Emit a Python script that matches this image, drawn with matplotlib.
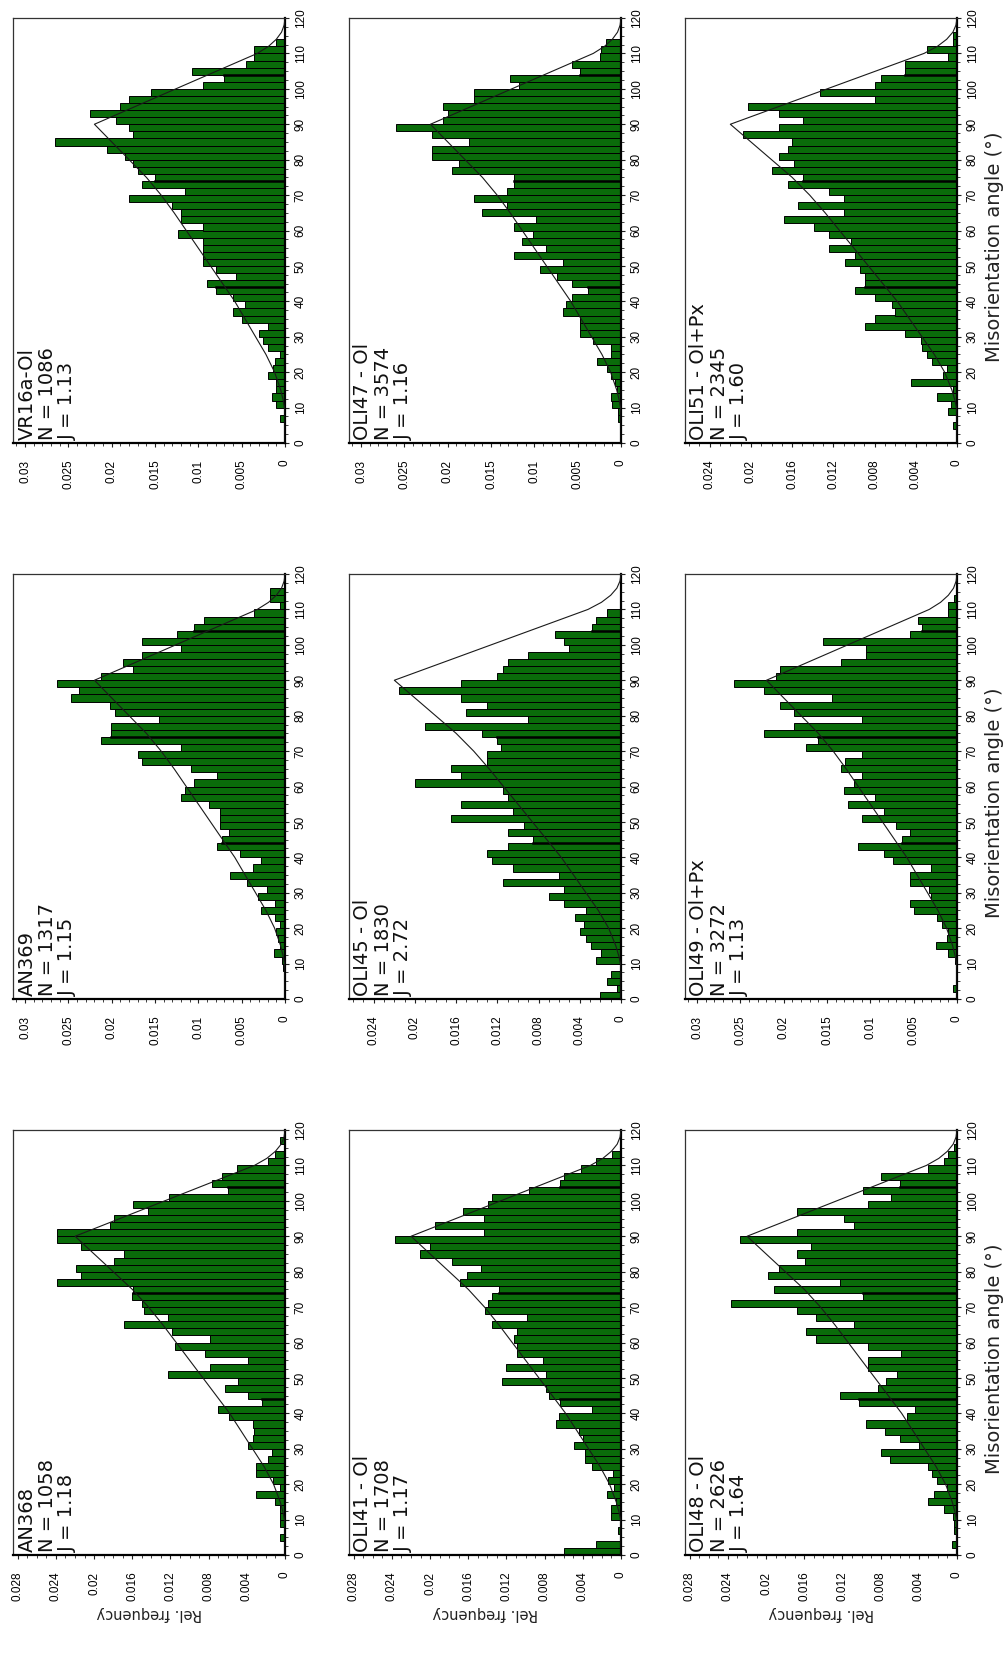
"""Misorientation-angle histograms for nine samples (portrait layout: angle runs
bottom-to-top, relative frequency grows to the left)."""
import numpy as np
import matplotlib
matplotlib.use("Agg")
import matplotlib.pyplot as plt
from matplotlib import font_manager
from matplotlib.ticker import FixedLocator, MultipleLocator

# left edges of the 2-degree bins
BIN_LEFT = np.arange(0, 120, 2)

# random (uncorrelated) misorientation curve, same in every panel
CURVE_ANGLE = [0, 5, 8, 10, 12, 15, 20, 25, 30, 35, 40, 45, 50, 55, 60, 65, 70,
               75, 80, 85, 90, 95, 100, 105, 110, 112, 114, 116, 118, 120]
CURVE_FREQ = [0, 0, 0, 0.00005, 0.0002, 0.0005, 0.0012, 0.0022, 0.0034, 0.0046,
              0.0058, 0.0072, 0.0086, 0.0100, 0.0114, 0.0128, 0.0143, 0.0160,
              0.0180, 0.0200, 0.0220, 0.0173, 0.0126, 0.0079, 0.0032, 0.0019,
              0.0010, 0.0004, 0.0001, 0]

VR16A = [0, 0, 0, 0.0006, 0, 0.001, 0.0015, 0.001, 0.001, 0.002,
         0.0014, 0.0011, 0.0006, 0.002, 0.0025, 0.003, 0.002, 0.005, 0.006, 0.0046,
         0.006, 0.008, 0.009, 0.0056, 0.008, 0.0095, 0.0095, 0.0095, 0.0095, 0.0124,
         0.0095, 0.012, 0.012, 0.013, 0.018, 0.0115, 0.0165, 0.015, 0.017, 0.0175,
         0.0185, 0.0205, 0.0265, 0.0175, 0.018, 0.0195, 0.0225, 0.019, 0.018, 0.0155,
         0.0095, 0.007, 0.0107, 0.0045, 0.0036, 0.0036, 0.001, 0, 0, 0]

OLI47 = [0, 0, 0, 0.0003, 0.0003, 0.001, 0.0011, 0.0005, 0.0007, 0.0012,
         0.0016, 0.0028, 0.0011, 0.0011, 0.0032, 0.0047, 0.0047, 0.0047, 0.0067, 0.0064,
         0.0057, 0.0038, 0.0057, 0.0074, 0.0093, 0.0067, 0.0124, 0.0087, 0.0114, 0.0102,
         0.0124, 0.0098, 0.016, 0.0132, 0.017, 0.0132, 0.0123, 0.0123, 0.0195, 0.0187,
         0.0218, 0.0218, 0.0175, 0.0218, 0.026, 0.0205, 0.020, 0.0205, 0.017, 0.017,
         0.0118, 0.0128, 0.0047, 0.0057, 0.0024, 0.0023, 0.0017, 0, 0, 0]

OLI51 = [0, 0, 0.0004, 0, 0.0009, 0.0006, 0.0019, 0.0004, 0.0045, 0.0014,
         0.001, 0.0024, 0.0029, 0.0034, 0.0035, 0.005, 0.0089, 0.008, 0.006, 0.0063,
         0.008, 0.0099, 0.0089, 0.0089, 0.0094, 0.0109, 0.0099, 0.0124, 0.0103, 0.0124,
         0.0139, 0.0168, 0.011, 0.0154, 0.011, 0.0124, 0.0164, 0.0149, 0.018, 0.0158,
         0.0173, 0.0164, 0.016, 0.0208, 0.0173, 0.0149, 0.0173, 0.0203, 0.008, 0.0133,
         0.008, 0.0074, 0.005, 0.005, 0.0009, 0.0029, 0.0004, 0.0004, 0, 0]

AN369 = [0, 0, 0, 0, 0.0002, 0.0004, 0.0013, 0.0006, 0.0008, 0.001,
         0.0006, 0.0012, 0.0028, 0.0012, 0.0031, 0.0021, 0.0044, 0.0063, 0.0037, 0.0028,
         0.0052, 0.0079, 0.0073, 0.0065, 0.0075, 0.0075, 0.0075, 0.0088, 0.012, 0.0115,
         0.0105, 0.0078, 0.0108, 0.0165, 0.017, 0.012, 0.0212, 0.0201, 0.0201, 0.0145,
         0.0196, 0.0202, 0.0247, 0.0238, 0.0263, 0.0212, 0.0176, 0.0187, 0.0165, 0.012,
         0.0165, 0.0125, 0.0105, 0.0094, 0.0036, 0.0006, 0.0017, 0.0017, 0, 0]

OLI45 = [0.002, 0.0004, 0.0014, 0.001, 0, 0.0024, 0.0019, 0.0029, 0.0034, 0.004,
         0.0036, 0.0045, 0.0034, 0.0055, 0.007, 0.0055, 0.0115, 0.006, 0.0105, 0.0125,
         0.013, 0.011, 0.0085, 0.011, 0.0094, 0.0165, 0.0105, 0.0155, 0.011, 0.0115,
         0.020, 0.0155, 0.0165, 0.013, 0.013, 0.0116, 0.012, 0.0135, 0.019, 0.009,
         0.015, 0.013, 0.0155, 0.0215, 0.0155, 0.012, 0.0115, 0.011, 0.009, 0.005,
         0.0055, 0.0064, 0.0028, 0.0024, 0.0014, 0, 0, 0, 0, 0]

OLI49 = [0, 0.0005, 0, 0, 0, 0.0002, 0.001, 0.0024, 0.0012, 0.001,
         0.0017, 0.0023, 0.005, 0.0054, 0.003, 0.0032, 0.0054, 0.0054, 0.003, 0.0074,
         0.0084, 0.0114, 0.0064, 0.0054, 0.007, 0.011, 0.0084, 0.0126, 0.0095, 0.013,
         0.0119, 0.011, 0.0134, 0.0129, 0.011, 0.0174, 0.016, 0.0223, 0.0188, 0.011,
         0.0188, 0.0204, 0.0144, 0.0223, 0.0258, 0.0209, 0.0204, 0.0134, 0.0105, 0.0105,
         0.0155, 0.0054, 0.004, 0.0045, 0.001, 0.001, 0.0004, 0, 0, 0]

AN368 = [0, 0, 0.0005, 0, 0.0005, 0.0005, 0.0005, 0.001, 0.003, 0.0005,
         0.0013, 0.003, 0.003, 0.0018, 0.0014, 0.0039, 0.0034, 0.0032, 0.0034, 0.0059,
         0.007, 0.0024, 0.0039, 0.0063, 0.0049, 0.0123, 0.0079, 0.0039, 0.0084, 0.0115,
         0.0079, 0.0118, 0.0169, 0.0123, 0.0148, 0.015, 0.016, 0.0159, 0.0239, 0.0214,
         0.0219, 0.0179, 0.0169, 0.0214, 0.0239, 0.0239, 0.0183, 0.0179, 0.0144, 0.0159,
         0.0122, 0.006, 0.0076, 0.0066, 0.005, 0.0018, 0.001, 0, 0.0005, 0]

OLI41 = [0.006, 0.0026, 0, 0.0003, 0, 0.0011, 0.0011, 0.0005, 0.0015, 0.0007,
         0.0014, 0.0008, 0.003, 0.0038, 0.0038, 0.0049, 0.004, 0.0044, 0.0068, 0.0065,
         0.003, 0.0064, 0.0075, 0.0079, 0.0125, 0.0079, 0.0121, 0.0082, 0.0109, 0.0109,
         0.0112, 0.0109, 0.0135, 0.0098, 0.0142, 0.0139, 0.0135, 0.0128, 0.0169, 0.0161,
         0.0147, 0.0177, 0.0211, 0.020, 0.0237, 0.0144, 0.0195, 0.0144, 0.0166, 0.0139,
         0.0135, 0.0096, 0.0064, 0.006, 0.0042, 0.0026, 0.0009, 0, 0, 0]

OLI48 = [0, 0.0005, 0, 0.0003, 0.0003, 0.0004, 0.0014, 0.003, 0.0024, 0.001,
         0.0021, 0.0026, 0.003, 0.007, 0.008, 0.004, 0.006, 0.0075, 0.0095, 0.0052,
         0.0044, 0.0103, 0.0123, 0.0083, 0.0074, 0.0063, 0.0093, 0.0093, 0.0059, 0.0093,
         0.0148, 0.0158, 0.0108, 0.0148, 0.0168, 0.0237, 0.0098, 0.0192, 0.0123, 0.0198,
         0.0187, 0.0159, 0.0168, 0.0153, 0.0227, 0.0168, 0.0108, 0.0118, 0.0168, 0.0093,
         0.0069, 0.0098, 0.006, 0.008, 0.003, 0.0014, 0.0009, 0.0003, 0, 0]

# panel grid, row by row as it appears in the image
GRID = [
    [("VR16a-Ol", "1086", "1.13", VR16A, 0.03),
     ("OLI47 - Ol", "3574", "1.16", OLI47, 0.03),
     ("OLI51 - Ol+Px", "2345", "1.60", OLI51, 0.024)],
    [("AN369", "1317", "1.15", AN369, 0.03),
     ("OLI45 - Ol", "1830", "2.72", OLI45, 0.024),
     ("OLI49 - Ol+Px", "3272", "1.13", OLI49, 0.03)],
    [("AN368", "1058", "1.18", AN368, 0.028),
     ("OLI41 - Ol", "1708", "1.17", OLI41, 0.028),
     ("OLI48 - Ol", "2626", "1.64", OLI48, 0.028)],
]

# style: frequency-axis extent and tick step for each top tick value
AXIS_STYLE = {0.03: (0.0314, 0.005), 0.024: (0.0264, 0.004), 0.028: (0.0285, 0.004)}

W, H = 1006, 1673
COL_LEFT = [13, 349, 685]
ROW_TOP = [18, 574, 1130]
AX_W, AX_H = 272, 425
GREEN = "#0a6c0a"


def _tick_font():
    for fam, size in (("Liberation Sans Narrow", 10), ("Liberation Sans", 8.5)):
        try:
            font_manager.findfont(font_manager.FontProperties(family=fam),
                                  fallback_to_default=False)
            return fam, size
        except ValueError:
            continue
    return "DejaVu Sans", 7.5


def _fmt(v):
    return f"{round(v, 4):g}"


plt.rcParams["font.family"] = "DejaVu Sans"
TICK_FAM, TICK_SIZE = _tick_font()

fig = plt.figure(figsize=(W / 100, H / 100), dpi=100)

for r, row in enumerate(GRID):
    for c, (name, n, j, vals, top) in enumerate(row):
        left = COL_LEFT[c] / W
        bottom = 1 - (ROW_TOP[r] + AX_H) / H
        ax = fig.add_axes([left, bottom, AX_W / W, AX_H / H])

        vals = np.asarray(vals)
        keep = vals > 0
        ax.barh(BIN_LEFT[keep], vals[keep], height=2, align="edge", color=GREEN,
                edgecolor="black", linewidth=0.7, zorder=2)
        # heavier bar boundaries that show up in the scan
        for edge in (44, 74, 104):
            i = edge // 2
            reach = min(vals[i - 1], vals[i])
            if reach > 0:
                ax.plot([0, reach], [edge, edge], color="black", lw=1.8, zorder=3)

        ax.plot(CURVE_FREQ, CURVE_ANGLE, color="#1a1a1a", lw=0.8, zorder=4)

        xmax, step = AXIS_STYLE[top]
        ax.set_xlim(xmax, 0)
        ax.set_ylim(0, 120)

        xt = [k * step for k in range(int(round(top / step)) + 1)]
        ax.xaxis.set_major_locator(FixedLocator(xt))
        ax.set_xticklabels([_fmt(t) for t in xt], rotation=90,
                           family=TICK_FAM, fontsize=TICK_SIZE)
        ax.xaxis.set_minor_locator(MultipleLocator(0.001))

        ax.yaxis.tick_right()
        ax.set_yticks(range(0, 121, 10))
        ax.set_yticklabels([str(v) for v in range(0, 121, 10)], rotation=90,
                           va="center", family=TICK_FAM, fontsize=TICK_SIZE)
        ax.yaxis.set_minor_locator(MultipleLocator(2.5))

        ax.tick_params(which="major", direction="out", length=3, width=0.8,
                       color="#222222")
        ax.tick_params(which="minor", direction="out", length=1.8, width=0.6,
                       color="#222222")
        ax.tick_params(axis="x", which="major", pad=9)
        ax.tick_params(axis="y", which="major", pad=4)

        for side in ("left", "top"):
            ax.spines[side].set_linewidth(0.9)
            ax.spines[side].set_color("#333333")
        for side in ("right", "bottom"):
            ax.spines[side].set_linewidth(1.6)
            ax.spines[side].set_color("black")

        ax.text(0.016, 0.006, f"{name}\nN = {n}\nJ = {j}", transform=ax.transAxes,
                rotation=90, ha="left", va="bottom", fontsize=14,
                linespacing=1.1, color="#111111", zorder=5)

# axis titles, as they sit in the rotated page
for c in range(3):
    cx = (COL_LEFT[c] + AX_W / 2) / W
    fig.text(cx, 1 - 1613 / H, "Rel. frequency", rotation=180, ha="center",
             va="center", fontsize=10.5, color="#222222")
for r in range(3):
    cy = 1 - (ROW_TOP[r] + 229) / H
    fig.text(994 / W, cy, "Misorientation angle (°)", rotation=90, ha="center",
             va="center", fontsize=14, color="#222222")

fig.savefig("out.png", dpi=100, facecolor="white")
